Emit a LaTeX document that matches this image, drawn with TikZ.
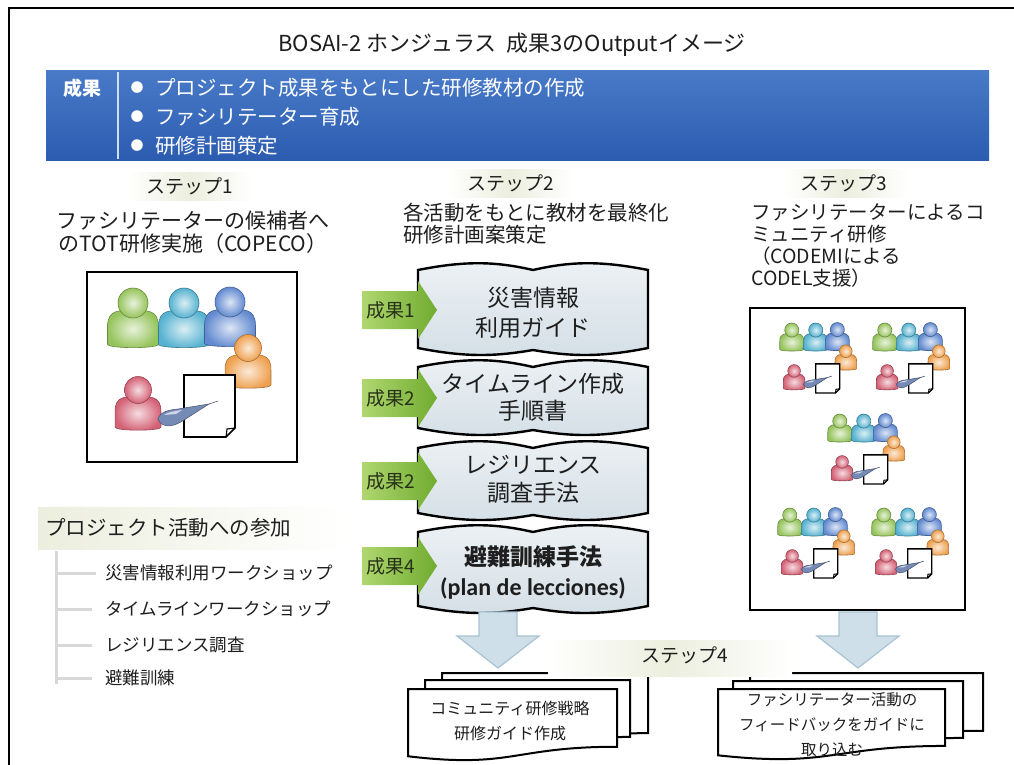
\documentclass[tikz,border=0pt]{standalone}
\usepackage{fontspec}
\setmainfont{Noto Sans CJK JP}
\newfontfamily\latinbold{Carlito}
\usetikzlibrary{shapes.geometric}

\definecolor{ink}{RGB}{30,30,30}
\definecolor{bandtop}{RGB}{72,122,200}
\definecolor{bandbot}{RGB}{44,92,176}
\definecolor{hazec}{RGB}{236,238,222}
\definecolor{bookA}{RGB}{236,241,244}
\definecolor{bookB}{RGB}{212,223,230}
\definecolor{greenL}{RGB}{176,214,112}
\definecolor{greenR}{RGB}{112,172,48}
\definecolor{arrowfill}{RGB}{206,223,233}
\definecolor{arrowedge}{RGB}{168,194,210}
\definecolor{treegray}{RGB}{216,216,216}
\definecolor{pgreen}{RGB}{150,196,92}
\definecolor{pcyan}{RGB}{86,178,208}
\definecolor{pblue}{RGB}{98,138,208}
\definecolor{porange}{RGB}{238,160,78}
\definecolor{pred}{RGB}{212,98,118}
\definecolor{penblue}{RGB}{118,138,182}

\tikzset{
  txt/.style={inner sep=0pt, text=ink},
  bandtxt/.style={inner sep=0pt, text=white, font=\fontsize{20.5}{22}\selectfont},
  steptxt/.style={txt, font=\fontsize{19}{21}\selectfont},
  booktxt/.style={txt, align=center, font=\fontsize{23}{30}\selectfont},
  bookshape/.style={draw=black, line width=2.4, top color=bookA, bottom color=bookB},
  greenarrow/.style={left color=greenL, right color=greenR},
  resulttxt/.style={inner sep=0pt, text={rgb,255:red,40;green,50;blue,25}, font=\fontsize{19}{21}\selectfont},
  downarrow/.style={fill=arrowfill, draw=arrowedge, line width=1.2},
  docsheet/.style={fill=white, draw=black, line width=2},
  docdtxt/.style={txt, align=center},
  framebox/.style={draw=black, line width=2, fill=white},
  haze/.style={left color=white, right color=white, middle color=hazec},
  treeline/.style={draw=treegray, line width=3},
}

% one person icon: head centre (#1,#2), head radius #3, colour #4
\newcommand{\figperson}[4]{%
  \shadedraw[draw=#4!70!black, line width=0.6, shading=radial, inner color=#4!22!white, outer color=#4]
    ({#1-1.7*#3},{#2+2.75*#3}) -- ({#1-1.7*#3},{#2+1.6*#3})
    .. controls ({#1-1.7*#3},{#2+0.4*#3}) and ({#1-0.9*#3},{#2+0.5*#3}) .. ({#1},{#2+0.5*#3})
    .. controls ({#1+0.9*#3},{#2+0.5*#3}) and ({#1+1.7*#3},{#2+0.4*#3}) .. ({#1+1.7*#3},{#2+1.6*#3})
    -- ({#1+1.7*#3},{#2+2.75*#3})
    .. controls ({#1+1.7*#3},{#2+3.05*#3}) and ({#1-1.7*#3},{#2+3.05*#3}) .. cycle;
  \shadedraw[draw=#4!70!black, line width=0.6, shading=radial, inner color=#4!22!white, outer color=#4]
    (#1,#2) circle[radius=#3];
}

% a group of five people writing on a sheet
\newcommand{\peoplegroup}[4]{%
  \begin{scope}[shift={(#1,#2)}, scale=#3]
    \figperson{25}{15}{15}{pgreen}
    \figperson{76}{15}{15}{pcyan}
    \figperson{122}{14}{15}{pblue}
    \figperson{140}{60}{13.5}{porange}
    \figperson{30}{102}{13.5}{pred}
    \filldraw[fill=white, draw=black, line width=#4]
      (76,87) -- (127,87) -- (127,140) -- (118,149) -- (76,149) -- cycle;
    \draw[line width=#4*0.7] (127,140) -- (119,141) -- (118,149);
    \filldraw[fill=penblue, draw=penblue!60!black, line width=0.5]
      (50,131) .. controls (52,124) and (60,122) .. (70,121) -- (101,116)
      -- (76,132) .. controls (66,139) and (54,141) .. cycle;
    \fill[penblue!35!white] (56,127) .. controls (60,124) and (66,123) .. (74,122) -- (68,126) -- cycle;
    \draw[penblue!60!black, line width=0.6] (101,116) -- (110,113);
  \end{scope}
}

% open-book page between x=#1..#2, top #3, bottom #4
\newcommand{\bookpage}[4]{%
  \path[bookshape] (#1,{#3+5})
    .. controls ({#1+50},{#3-5}) and ({(#1+#2)/2-35},{#3-3}) .. ({(#1+#2)/2},{#3+5})
    .. controls ({(#1+#2)/2+35},{#3-3}) and ({#2-50},{#3-5}) .. (#2,{#3+5})
    -- (#2,{#4-5})
    .. controls ({#2-50},{#4+5}) and ({(#1+#2)/2+35},{#4+3}) .. ({(#1+#2)/2},{#4-3})
    .. controls ({(#1+#2)/2-35},{#4+3}) and ({#1+50},{#4+5}) .. (#1,{#4-5})
    -- cycle;
}

% green result arrow at height #1
\newcommand{\resultarrow}[3]{%
  \path[greenarrow] (362,{#1-19}) -- (418,{#1-19}) -- (418,{#1-29}) -- (437,#1)
    -- (418,{#1+29}) -- (418,{#1+19}) -- (362,{#1+19}) -- cycle;
  \node[resulttxt] (#3) at (391,#1) {#2};
}

% wide downward block arrow, centre #1, top #2
\newcommand{\downblock}[2]{%
  \path[downarrow] ({#1-19},#2) -- ({#1+19},#2) -- ({#1+19},{#2+24}) -- ({#1+41},{#2+24})
    -- (#1,{#2+56}) -- ({#1-41},{#2+24}) -- ({#1-19},{#2+24}) -- cycle;
}

% document sheet with a wavy lower edge: x from #1 to #2, top #3, height #4
\newcommand{\docpage}[4]{%
  \path[docsheet] (#1,#3) -- (#2,#3) -- (#2,{#3+0.802*#4})
    .. controls ({(#1+#2)/2},{#3+0.802*#4}) and ({(#1+#2)/2},{#3+1.108*#4}) .. (#1,{#3+0.934*#4})
    -- cycle;
}

\begin{document}
\begin{tikzpicture}[x=1pt,y=-1pt]
\useasboundingbox (0,0) rectangle (1014,765);
\clip (0,0) rectangle (1014,765);
\fill[white] (0,0) rectangle (1014,765);
\draw[line width=2.2] (9,8) rectangle (1060,820);

% title
\node[txt, font=\fontsize{22}{24}\selectfont] (title) at (512,45)
  {BOSAI-2 ホンジュラス\hspace{10pt}成果3のOutputイメージ};

% results band
\path[top color=bandtop, bottom color=bandbot] (46,71) rectangle (989,160);
\draw[white!75!bandtop, line width=1.5] (118,72) -- (118,159);
\node[bandtxt, font=\bfseries\fontsize{19}{21}\selectfont] (bandhead) at (82,88) {成果};
\node[bandtxt, font=\fontsize{13}{14}\selectfont] (b1) at (137,88) {●};
\node[bandtxt, font=\fontsize{13}{14}\selectfont] (b2) at (137,117) {●};
\node[bandtxt, font=\fontsize{13}{14}\selectfont] (b3) at (137,146) {●};
\node[bandtxt, anchor=west] (r1) at (155,88) {プロジェクト成果をもとにした研修教材の作成};
\node[bandtxt, anchor=west] (r2) at (155,117) {ファシリテーター育成};
\node[bandtxt, anchor=west] (r3) at (155,146) {研修計画策定};

% step headings
\path[haze] (128,172) rectangle (252,200);
\path[haze] (448,169) rectangle (572,197);
\path[haze] (783,169) rectangle (907,197);
\node[steptxt] (s1) at (190,186) {ステップ1};
\node[steptxt] (s2) at (511,183) {ステップ2};
\node[steptxt] (s3) at (844,183) {ステップ3};

% step descriptions
\node[txt, align=center, font=\fontsize{21}{23}\selectfont] (d1) at (193,232.5)
  {ファシリテーターの候補者へ\\のTOT研修実施（COPECO）};
\node[txt, align=left, anchor=west, font=\fontsize{20.5}{22}\selectfont] (d2) at (403,224)
  {各活動をもとに教材を最終化\\研修計画案策定};
\node[txt, align=left, anchor=west, font=\fontsize{19.5}{21.7}\selectfont] (d3) at (751,245.5)
  {ファシリテーターによるコ\\ミュニティ研修\\（CODEMIによる\\CODEL支援）};

% step 1 picture
\path[framebox] (87,272) rectangle (297,462);
\peoplegroup{108}{288}{1}{1.6}

% participation list
\path[left color=hazec, right color=white] (38,507) rectangle (345,549);
\node[txt, anchor=west, font=\fontsize{20.5}{22}\selectfont] (part) at (45,528) {プロジェクト活動への参加};
\draw[treeline] (56,551) -- (56,684);
\draw[treeline] (56,573) -- (96,573);
\draw[treeline] (56,609) -- (92,609);
\draw[treeline] (56,645) -- (92,645);
\draw[treeline] (56,678) -- (92,678);
\node[txt, anchor=west, font=\fontsize{17.5}{19}\selectfont] (a1) at (105,573) {災害情報利用ワークショップ};
\node[txt, anchor=west, font=\fontsize{17.5}{19}\selectfont] (a2) at (105,609) {タイムラインワークショップ};
\node[txt, anchor=west, font=\fontsize{17.5}{19}\selectfont] (a3) at (105,645) {レジリエンス調査};
\node[txt, anchor=west, font=\fontsize{17.5}{19}\selectfont] (a4) at (105,678) {避難訓練};

% step 2 teaching materials
\bookpage{418}{648}{265}{353}
\node[booktxt] (m1) at (533,313) {災害情報\\利用ガイド};
\bookpage{418}{648}{362}{433}
\node[booktxt, font=\fontsize{23}{27}\selectfont] (m2) at (533,397) {タイムライン作成\\手順書};
\bookpage{418}{648}{443}{518}
\node[booktxt, font=\fontsize{23}{28}\selectfont] (m3) at (533,479) {レジリエンス\\調査手法};
\bookpage{418}{648}{527}{611}
\node[booktxt, font=\bfseries\fontsize{23}{26}\selectfont] (m4a) at (533,557) {避難訓練手法};
\node[booktxt, font=\latinbold\bfseries\fontsize{24}{26}\selectfont] (m4b) at (533,588) {(plan de lecciones)};

\resultarrow{310}{成果1}{g1}
\resultarrow{398}{成果2}{g2}
\resultarrow{481}{成果2}{g3}
\resultarrow{566}{成果4}{g4}

% step 3 picture
\path[framebox] (750,308) rectangle (965,610);
\peoplegroup{780}{323}{0.47}{1.4}
\peoplegroup{873}{323}{0.47}{1.4}
\peoplegroup{828}{414}{0.47}{1.4}
\peoplegroup{778}{508}{0.47}{1.4}
\peoplegroup{872}{508}{0.47}{1.4}

% step 4
\downblock{498}{612}
\downblock{858}{612}

\docpage{442}{648}{673}{75}
\docpage{425}{630}{680}{71}
\docpage{408}{617}{689}{72}
\node[docdtxt, font=\fontsize{16}{25}\selectfont] (o1) at (510,720.5) {コミュニティ研修戦略\\研修ガイド作成};

\docpage{750}{983}{673}{72}
\docpage{733}{963}{681}{71}
\docpage{718}{945}{689}{71}
\node[docdtxt, font=\fontsize{15.5}{25}\selectfont] (o2) at (832,725) {ファシリテーター活動の\\フィードバックをガイドに\\取り込む};

\path[haze] (548,640) rectangle (792,676);
\node[steptxt] (s4) at (685,655) {ステップ4};
\end{tikzpicture}
\end{document}
